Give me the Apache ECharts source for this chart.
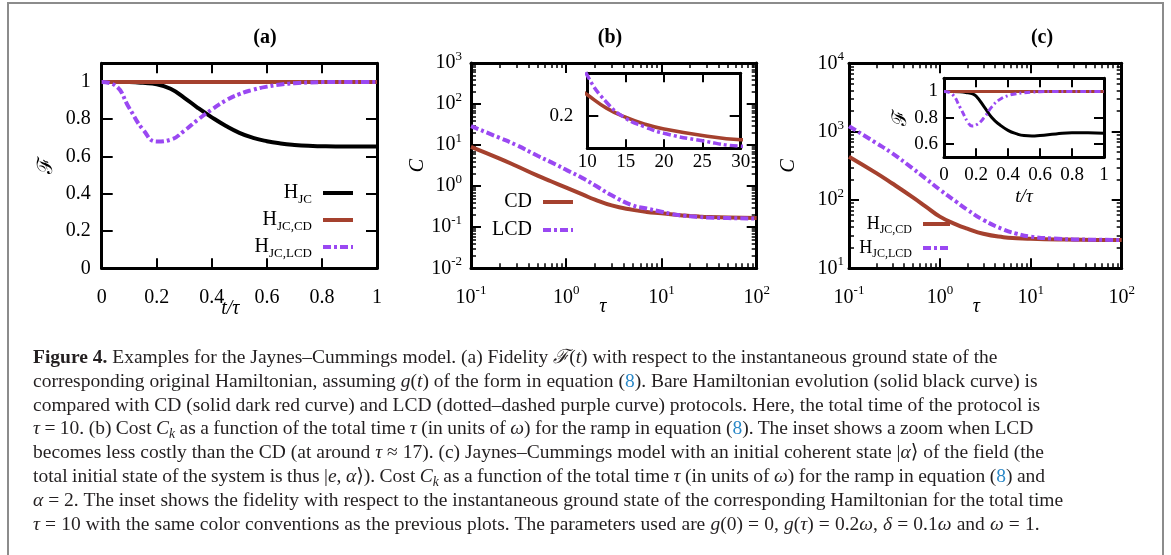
<!DOCTYPE html>
<html>
<head>
<meta charset="utf-8">
<title>Figure 4</title>
<script src="https://cdn.jsdelivr.net/npm/echarts@6/dist/echarts.min.js"></script>
<style>
  html, body { margin: 0; padding: 0; background: #fff; }
  #wrap { position: relative; width: 1171px; height: 555px; overflow: hidden; }
  #chart { position: absolute; left: 0; top: 0; width: 1171px; height: 555px; }
  #frame { position: absolute; left: 7px; top: 2px; width: 1157px; height: 600px; border: 2px solid #8c8c8c; border-bottom: none; box-sizing: border-box; }
  #caption { position: absolute; left: 33px; top: 345px; font-family: 'Liberation Serif', 'DejaVu Serif', serif; font-size: 19.5px; line-height: 23.8px; color: #231f20; white-space: nowrap; }
  #caption .ref { color: #2a88c8; }
  #caption sub { font-size: 0.7em; line-height: 0; vertical-align: baseline; position: relative; top: 0.3em; }
  .tight { word-spacing: -0.45px; }
  .loose { word-spacing: 0.25px; }
</style>
</head>
<body>
<div id="wrap">
  <div id="frame"></div>
  <div id="chart"></div>
  <div id="caption">
    <b>Figure 4.</b> Examples for the Jaynes–Cummings model. (a) Fidelity <i>ℱ</i>(<i>t</i>) with respect to the instantaneous ground state of the<br>
    corresponding original Hamiltonian, assuming <i>g</i>(<i>t</i>) of the form in equation (<span class="ref">8</span>). Bare Hamiltonian evolution (solid black curve) is<br>
    compared with CD (solid dark red curve) and LCD (dotted–dashed purple curve) protocols. Here, the total time of the protocol is<br>
    <span class="tight"><i>τ</i> = 10. (b) Cost <i>C<sub>k</sub></i> as a function of the total time <i>τ</i> (in units of <i>ω</i>) for the ramp in equation (<span class="ref">8</span>). The inset shows a zoom when LCD</span><br>
    becomes less costly than the CD (at around <i>τ</i> ≈ 17). (c) Jaynes–Cummings model with an initial coherent state |<i>α</i>⟩ of the field (the<br>
    <span class="tight">total initial state of the system is thus |<i>e</i>, <i>α</i>⟩). Cost <i>C<sub>k</sub></i> as a function of the total time <i>τ</i> (in units of <i>ω</i>) for the ramp in equation (<span class="ref">8</span>) and</span><br>
    <i>α</i> = 2. The inset shows the fidelity with respect to the instantaneous ground state of the corresponding Hamiltonian for the total time<br>
    <span class="loose"><i>τ</i> = 10 with the same color conventions as the previous plots. The parameters used are <i>g</i>(0) = 0, <i>g</i>(<i>τ</i>) = 0.2<i>ω</i>, <i>δ</i> = 0.1<i>ω</i> and <i>ω</i> = 1.</span>
  </div>
</div>
<script>
// (a) fidelity vs t/tau, tau = 10
const fidT = [0, 0.05, 0.1, 0.15, 0.2, 0.25, 0.3, 0.35, 0.4, 0.45, 0.5, 0.55, 0.6, 0.65, 0.7, 0.75, 0.8, 0.85, 0.9, 0.95, 1];
const fidBare = [1, 1, 0.999, 0.995, 0.988, 0.963, 0.915, 0.86, 0.81, 0.765, 0.727, 0.7, 0.682, 0.67, 0.662, 0.657, 0.655, 0.654, 0.654, 0.654, 0.654];
const fidCD = [1, 1, 1, 1, 1, 1, 1, 1, 1, 1, 1, 1, 1, 1, 1, 1, 1, 1, 1, 1, 1];
const fidLCD = [1, 0.98, 0.86, 0.745, 0.68, 0.69, 0.738, 0.798, 0.852, 0.9, 0.935, 0.958, 0.975, 0.986, 0.993, 0.997, 0.999, 1, 1, 1, 1];

// (b) cost vs tau
const tauB = [0.1, 0.2, 0.3, 0.5, 0.7, 1, 1.5, 2, 3, 5, 7, 10, 12.5, 15, 17.5, 20, 25, 30, 50, 100];
const costCDb = [9.1, 4.7, 3.1, 1.8, 1.3, 0.92, 0.62, 0.47, 0.34, 0.265, 0.236, 0.22, 0.2075, 0.199, 0.1925, 0.188, 0.182, 0.178, 0.172, 0.168];
const costLCDb = [29, 15, 10, 5.5, 3.8, 2.5, 1.55, 1.05, 0.6, 0.34, 0.285, 0.238, 0.213, 0.198, 0.19, 0.184, 0.177, 0.172, 0.167, 0.163];

// (c) cost vs tau, coherent state alpha = 2
const tauC = [0.1, 0.2, 0.3, 0.5, 0.7, 1, 1.5, 2, 3, 5, 7, 10, 20, 30, 50, 100];
const costCDc = [430, 247, 174, 110, 80, 57, 44, 38, 32, 28.5, 27.5, 27, 26.5, 26.2, 26, 26];
const costLCDc = [1200, 680, 480, 290, 205, 141, 95, 72, 51, 37, 32, 29, 27, 26.5, 26.2, 26];

// (c) inset fidelity
const insetT = [0, 0.05, 0.1, 0.15, 0.175, 0.2, 0.25, 0.3, 0.35, 0.4, 0.45, 0.5, 0.55, 0.6, 0.7, 0.8, 0.9, 1];
const insetBare = [1, 1, 0.998, 0.99, 0.983, 0.965, 0.885, 0.8, 0.745, 0.705, 0.68, 0.665, 0.662, 0.666, 0.677, 0.686, 0.686, 0.683];
const insetCD = [1, 1, 1, 1, 1, 1, 1, 1, 1, 1, 1, 1, 1, 1, 1, 1, 1, 1];
const insetLCD = [1, 0.98, 0.88, 0.765, 0.738, 0.745, 0.8, 0.885, 0.94, 0.968, 0.982, 0.99, 0.995, 0.998, 1, 1, 1, 1];

// tick labels
const fidTicks = [0, 0.2, 0.4, 0.6, 0.8, 1];
const tTicks = [0, 0.2, 0.4, 0.6, 0.8, 1];
const insetBTauTicks = [10, 15, 20, 25, 30];
const insetBCostTicks = [0.2];
const insetCFidTicks = [0.6, 0.8, 1];

const SERIF = "'Liberation Serif', 'DejaVu Serif', serif";
const RED = '#a5412e';
const PURPLE = '#9a48f2';

const legendNames = {
  'H_JC': 'H{sub|JC}',
  'H_JC,CD': 'H{sub|JC,CD}',
  'H_JC,LCD': 'H{sub|JC,LCD}',
  'CD': 'CD',
  'LCD': 'LCD'
};

const zip = (xs, ys) => xs.map((x, i) => [x, ys[i]]);

function minorLogs(min, max) {
  const out = [];
  for (let e = Math.round(Math.log10(min)); e < Math.round(Math.log10(max)); e++) {
    for (let k = 2; k <= 9; k++) out.push(e + Math.log10(k));
  }
  return out;
}

const supRich = { sup: { fontSize: 13, lineHeight: 13, verticalAlign: 'top', fontFamily: SERIF, color: '#000' } };

const grid = [];
const xAxis = [];
const yAxis = [];

function addGrid(g) {
  grid.push(Object.assign({ containLabel: false, outerBoundsMode: 'none' }, g));
  return grid.length - 1;
}

// frame axis on both sides (labels only on the first), plus minor ticks for log axes
function addAxes(list, gi, dir, s) {
  const sides = dir === 'x' ? ['bottom', 'top'] : ['left', 'right'];
  let mainIndex = -1;
  sides.forEach((pos, k) => {
    const main = k === 0;
    const ax = {
      gridIndex: gi,
      position: pos,
      type: s.log ? 'log' : 'value',
      min: s.min,
      max: s.max,
      axisLine: { show: true, onZero: false, lineStyle: { color: '#000', width: 3 } },
      axisTick: { show: true, inside: true, length: s.tickLen, lineStyle: { color: '#000', width: 2 } },
      axisLabel: { show: main, margin: s.margin, color: '#000', fontFamily: SERIF, fontSize: s.fontSize },
      splitLine: { show: false }
    };
    if (s.log) {
      ax.logBase = 10;
      ax.axisLabel.formatter = v => '10{sup|' + Math.round(Math.log10(v)) + '}';
      ax.axisLabel.rich = supRich;
      ax.axisLabel.lineHeight = 26;
    } else {
      ax.axisTick.customValues = s.ticks;
      ax.axisLabel.customValues = s.ticks;
    }
    if (main && s.name) {
      ax.name = s.name;
      ax.nameLocation = 'middle';
      ax.nameGap = s.nameGap;
      if (dir === 'x') ax.nameMoveOverlap = false;
      ax.nameTextStyle = Object.assign({ color: '#000', fontFamily: SERIF, fontSize: 20, fontStyle: 'italic' }, s.nameStyle || {});
    }
    list.push(ax);
    if (main) mainIndex = list.length - 1;
    if (s.log) {
      list.push({
        gridIndex: gi,
        position: pos,
        type: 'value',
        min: Math.round(Math.log10(s.min)),
        max: Math.round(Math.log10(s.max)),
        axisLine: { show: false, onZero: false },
        axisLabel: { show: false },
        splitLine: { show: false },
        axisTick: { show: true, inside: true, length: 5, customValues: minorLogs(s.min, s.max), lineStyle: { color: '#000', width: 1.5 } }
      });
    }
  });
  return mainIndex;
}

function line(name, xi, yi, data, color, width, dashed) {
  return {
    name: name,
    type: 'line',
    xAxisIndex: xi,
    yAxisIndex: yi,
    data: data,
    symbol: 'none',
    smooth: 0.5,
    lineStyle: { color: color, width: width, type: dashed ? (width > 3 ? [8, 3, 3, 3] : [6, 3, 2, 3]) : 'solid' },
    itemStyle: { color: color },
    animation: false
  };
}

// (a)
const gA = addGrid({ left: 101.7, top: 63.3, width: 275.3, height: 205 });
const xA = addAxes(xAxis, gA, 'x', { min: 0, max: 1, ticks: tTicks, fontSize: 20, margin: 19, tickLen: 10,
  name: 't/τ', nameGap: 30, nameStyle: { padding: [0, 18, 0, 0] } });
const yA = addAxes(yAxis, gA, 'y', { min: 0, max: 1.1, ticks: fidTicks, fontSize: 20, margin: 11, tickLen: 11,
  name: 'ℱ', nameGap: 45, nameStyle: { fontSize: 21, fontStyle: 'normal' } });

// (b)
const gB = addGrid({ left: 471, top: 63, width: 285.7, height: 205.3 });
const xB = addAxes(xAxis, gB, 'x', { log: true, min: 0.1, max: 100, fontSize: 20, margin: 16, tickLen: 10,
  name: 'τ', nameGap: 28, nameStyle: { padding: [0, 22, 0, 0] } });
const yB = addAxes(yAxis, gB, 'y', { log: true, min: 0.01, max: 1000, fontSize: 20, margin: 9, tickLen: 10,
  name: 'C', nameGap: 41 });

// (b) inset
const gBi = addGrid({ left: 587.3, top: 73.3, width: 153.4, height: 75 });
const xBi = addAxes(xAxis, gBi, 'x', { min: 10, max: 30, ticks: insetBTauTicks, fontSize: 19, margin: 4, tickLen: 9 });
const yBi = addAxes(yAxis, gBi, 'y', { min: 0.17, max: 0.24, ticks: insetBCostTicks, fontSize: 19, margin: 14, tickLen: 11 });

// (c)
const gC = addGrid({ left: 849, top: 63.3, width: 272.7, height: 205 });
const xC = addAxes(xAxis, gC, 'x', { log: true, min: 0.1, max: 100, fontSize: 20, margin: 16, tickLen: 10,
  name: 'τ', nameGap: 28, nameStyle: { padding: [0, 18, 0, 0] } });
const yC = addAxes(yAxis, gC, 'y', { log: true, min: 10, max: 10000, fontSize: 20, margin: 5, tickLen: 10,
  name: 'C', nameGap: 50 });

// (c) inset
const gCi = addGrid({ left: 944, top: 78.3, width: 160, height: 79 });
const xCi = addAxes(xAxis, gCi, 'x', { min: 0, max: 1, ticks: tTicks, fontSize: 19, margin: 8, tickLen: 9,
  name: 't/τ', nameGap: 30, nameStyle: { fontSize: 19 } });
const yCi = addAxes(yAxis, gCi, 'y', { min: 0.5, max: 1.1, ticks: insetCFidTicks, fontSize: 19, margin: 6, tickLen: 10,
  name: 'ℱ', nameGap: 27, nameStyle: { fontSize: 20, fontStyle: 'normal' } });

const series = [
  line('H_JC', xA, yA, zip(fidT, fidBare), '#000', 4, false),
  line('H_JC,CD', xA, yA, zip(fidT, fidCD), RED, 4, false),
  line('H_JC,LCD', xA, yA, zip(fidT, fidLCD), PURPLE, 4, true),

  line('CD', xB, yB, zip(tauB, costCDb), RED, 4, false),
  line('LCD', xB, yB, zip(tauB, costLCDb), PURPLE, 4, true),
  line('inset b CD', xBi, yBi, zip(tauB, costCDb), RED, 3.5, false),
  line('inset b LCD', xBi, yBi, zip(tauB, costLCDb), PURPLE, 3.5, true),

  line('H_JC,CD', xC, yC, zip(tauC, costCDc), RED, 4, false),
  line('H_JC,LCD', xC, yC, zip(tauC, costLCDc), PURPLE, 4, true),
  line('inset c bare', xCi, yCi, zip(insetT, insetBare), '#000', 3, false),
  line('inset c CD', xCi, yCi, zip(insetT, insetCD), RED, 3, false),
  line('inset c LCD', xCi, yCi, zip(insetT, insetLCD), PURPLE, 3, true)
];

function legendBox(names, right, top, fontSize, lineHeight, gap, itemWidth) {
  return {
    data: names,
    orient: 'vertical',
    align: 'right',
    right: right,
    top: top,
    padding: 0,
    itemWidth: itemWidth,
    itemHeight: 12,
    itemGap: gap,
    selectedMode: false,
    formatter: n => legendNames[n],
    itemStyle: { color: 'rgba(0,0,0,0)', borderWidth: 0, opacity: 0 },
    lineStyle: { width: 4 },
    textStyle: {
      color: '#000', fontFamily: SERIF, fontSize: fontSize, lineHeight: lineHeight, padding: [0, 6, 0, 0],
      rich: { sub: { fontSize: Math.round(fontSize * 0.65), lineHeight: Math.round(fontSize * 0.65), verticalAlign: 'bottom', fontFamily: SERIF, color: '#000' } }
    }
  };
}

const titleStyle = { font: 'bold 20px ' + SERIF, fill: '#000', align: 'center', verticalAlign: 'middle' };

const option = {
  animation: false,
  backgroundColor: 'transparent',
  grid: grid,
  xAxis: xAxis,
  yAxis: yAxis,
  legend: [
    legendBox(['H_JC', 'H_JC,CD', 'H_JC,LCD'], 816, 180, 20, 26, 1, 30),
    legendBox(['CD', 'LCD'], 596, 191, 20, 22, 6, 30),
    legendBox(['H_JC,CD', 'H_JC,LCD'], 219, 212, 18, 24, 0, 27)
  ],
  graphic: [
    { type: 'text', x: 265, y: 38, style: Object.assign({ text: '(a)' }, titleStyle) },
    { type: 'text', x: 610, y: 38, style: Object.assign({ text: '(b)' }, titleStyle) },
    { type: 'text', x: 1042, y: 38, style: Object.assign({ text: '(c)' }, titleStyle) }
  ],
  series: series
};

const chart = echarts.init(document.getElementById('chart'), null, { renderer: 'canvas' });
chart.setOption(option);
</script>
</body>
</html>
